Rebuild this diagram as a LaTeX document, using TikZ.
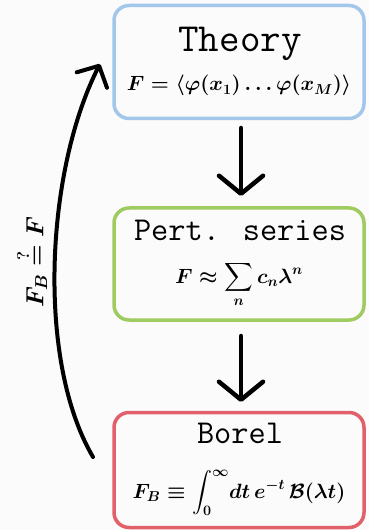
\documentclass[tikz,border=0pt]{standalone}
\usepackage{amsmath,amssymb}
\usetikzlibrary{arrows.meta}
\definecolor{bg}{HTML}{FBFBFB}
\definecolor{cblue}{HTML}{A2C7EA}
\definecolor{cgreen}{HTML}{A0CB60}
\definecolor{cred}{HTML}{E2606A}
\begin{document}
\begin{tikzpicture}[x=1bp,y=-1bp,
  boxst/.style={draw, line width=3.5bp, rounded corners=15bp},
  titlest/.style={inner sep=0pt, anchor=base},
  mathst/.style={font=\fontsize{20}{24}\selectfont\boldmath, inner sep=0pt, anchor=base},
  flowarrow/.style={line width=4.5bp, line cap=round, -{Straight Barb[length=18bp,width=44bp,line cap=round,round]}},
  backarrow/.style={line width=4bp, line cap=round, -{Straight Barb[length=16bp,width=34bp,round]}}]
\fill[bg] (0,0) rectangle (369,530);
\useasboundingbox (0,0) rectangle (369,530);
% boxes
\node[boxst, draw=cblue, minimum width=250bp, minimum height=113bp] (theory) at (239,62) {};
\node[boxst, draw=cgreen, minimum width=250bp, minimum height=112bp] (pert) at (239,264) {};
\node[boxst, draw=cred, minimum width=250bp, minimum height=115bp] (borel) at (239,470) {};
% texts
\node[titlest, font=\fontsize{40}{44}\selectfont\ttfamily] (t1) at (240,52) {Theory};
\node[mathst] (m1) at (239,91) {$F = \langle \varphi(x_1)\ldots\varphi(x_M)\rangle$};
\node[titlest, font=\fontsize{33.5}{38}\selectfont\ttfamily] (t2) at (240,240) {Pert. series};
\node[mathst] (m2) at (239,283) {$\displaystyle F \approx \sum_n c_n\lambda^n$};
\node[titlest, font=\fontsize{33.5}{38}\selectfont\ttfamily] (t3) at (240,443) {Borel};
\node[mathst] (m3) at (239,498) {$\displaystyle F_B \equiv \int_0^\infty\! dt\, e^{-t}\, \mathcal{B}(\lambda t)$};
% flow arrows
\coordinate (a1s) at (241,128);
\coordinate (a1e) at (241,196);
\coordinate (a2s) at (241,336);
\coordinate (a2e) at (241,402);
\draw[flowarrow] (a1s) -- (a1e);
\draw[flowarrow] (a2s) -- (a2e);
% back arrow
\coordinate (bs) at (93,457);
\coordinate (be) at (100,64);
\draw[backarrow] (bs) .. controls (36,360) and (46,170) .. (be);
\node[font=\fontsize{23}{27}\selectfont\boldmath, rotate=90, inner sep=0pt] (lbl) at (31,262) {$F_B \overset{?}{=} F$};
\end{tikzpicture}
\end{document}
